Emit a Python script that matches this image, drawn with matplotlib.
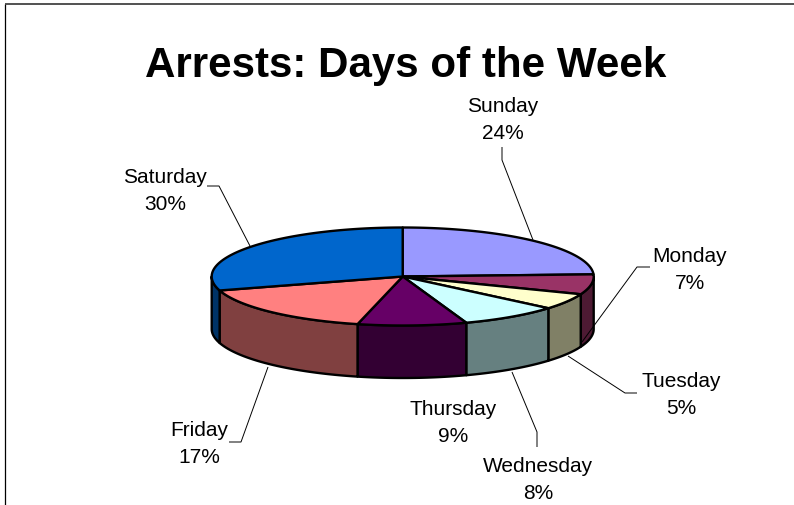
import numpy as np
import matplotlib
matplotlib.use("Agg")
import matplotlib.pyplot as plt
from matplotlib.patches import Polygon

plt.rcParams['font.family'] = ['Liberation Sans', 'DejaVu Sans']

TITLE = "Arrests: Days of the Week"
days = ["Sunday", "Monday", "Tuesday", "Wednesday", "Thursday", "Friday", "Saturday"]
values = [24.3, 6.6, 5.3, 8.4, 9.2, 16.6, 29.6]
colors = ["#9999FF", "#993366", "#FFFFCC", "#CCFFFF", "#660066", "#FF8080", "#0066CC"]
sides = ["#4D4D80", "#4D1A33", "#808066", "#668080", "#330033", "#804040", "#003366"]

W, H = 794, 506
CX, CY, RX, RY, DEPTH = 402.7, 277.5, 191.0, 49.0, 52.5

label_pos = {
    "Sunday": (503, 120), "Monday": (690, 270), "Tuesday": (681, 395),
    "Wednesday": (538, 480), "Thursday": (453, 423), "Friday": (199, 444),
    "Saturday": (165, 191),
}
leaders = {
    "Sunday": [(502, 148), (502, 161), (533, 241)],
    "Monday": [(650, 268), (637, 268), (582, 343)],
    "Tuesday": [(568, 357), (625, 394), (637, 394)],
    "Wednesday": [(512, 373), (537, 433), (537, 448)],
    "Friday": [(268, 368), (241, 443), (229, 443)],
    "Saturday": [(250, 247), (219, 187), (207, 187)],
}

fig = plt.figure(figsize=(W / 100, H / 100), dpi=100)
ax = fig.add_axes([0, 0, 1, 1])
ax.set_xlim(0, W)
ax.set_ylim(H, 0)
ax.axis("off")

ax.plot([5, 5], [H, 5], color="black", lw=0.9, solid_capstyle="butt")
ax.plot([5, W], [5, 5], color="#333333", lw=1.2, solid_capstyle="butt")


def arc(a0, a1, dy=0.0):
    t = np.radians(np.linspace(a0, a1, 120))
    return np.column_stack([CX + RX * np.sin(t), CY - RY * np.cos(t) + dy])


edges = np.concatenate([[0], np.cumsum(values)]) / sum(values) * 360
LW = 1.7

# visible front wall, clipped to the near half of the ellipse
for a0, a1, c in zip(edges[:-1], edges[1:], sides):
    s0, s1 = max(a0, 90), min(a1, 270)
    if s1 <= s0:
        continue
    pts = np.vstack([arc(s0, s1), arc(s0, s1, DEPTH)[::-1]])
    ax.add_patch(Polygon(pts, closed=True, fc=c, ec="black", lw=LW, joinstyle="round"))

# top faces
for a0, a1, c in zip(edges[:-1], edges[1:], colors):
    pts = np.vstack([[(CX, CY)], arc(a0, a1)])
    ax.add_patch(Polygon(pts, closed=True, fc=c, ec="black", lw=LW, joinstyle="round"))

for name, pts in leaders.items():
    xs, ys = zip(*pts)
    ax.plot(xs, ys, color="black", lw=0.7, solid_capstyle="butt")

for name, v in zip(days, values):
    x, y = label_pos[name]
    ax.text(x, y, f"{name}\n{v / sum(values) * 100:.0f}%", ha="center", va="center",
            fontsize=15, linespacing=1.55, color="black")

ax.text(406, 65.5, TITLE, ha="center", va="center", fontsize=30.3, fontweight="bold", color="black")

fig.savefig("out.png", dpi=100)
